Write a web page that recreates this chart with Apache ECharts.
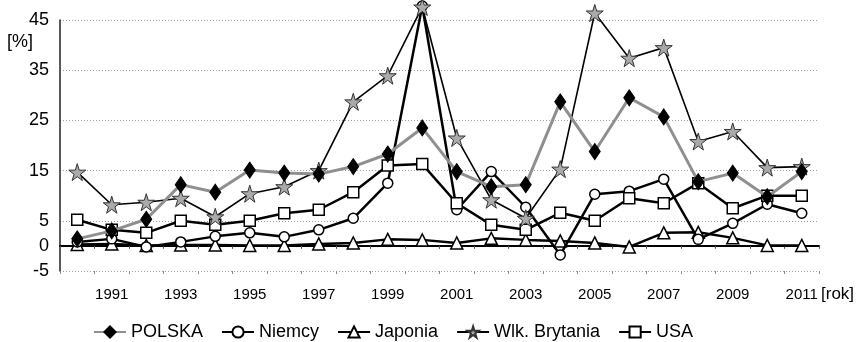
<!DOCTYPE html>
<html>
<head>
<meta charset="utf-8">
<script src="https://cdn.jsdelivr.net/npm/echarts@6/dist/echarts.min.js"></script>
<style>
html,body{margin:0;padding:0;background:#fff;}
#c{width:856px;height:342px;}
</style>
</head>
<body>
<div id="c"></div>
<script>
const years = ['1990','1991','1992','1993','1994','1995','1996','1997','1998','1999','2000','2001','2002','2003','2004','2005','2006','2007','2008','2009','2010','2011'];
const polska = [1.4, 3.0, 5.3, 12.2, 10.7, 15.1, 14.5, 14.3, 15.8, 18.3, 23.5, 14.8, 11.8, 12.2, 28.7, 18.8, 29.5, 25.7, 12.8, 14.5, 9.8, 14.8];
const niemcy = [0.8, 1.4, -0.2, 0.8, 1.9, 2.6, 1.8, 3.2, 5.5, 12.5, 47.8, 7.2, 14.8, 7.7, -1.8, 10.3, 10.9, 13.3, 1.3, 4.5, 8.3, 6.5];
const japonia = [0.3, 0.4, 0.1, 0.2, 0.2, 0.1, 0.1, 0.4, 0.6, 1.3, 1.2, 0.6, 1.5, 1.2, 1.0, 0.6, -0.2, 2.6, 2.7, 1.6, 0.1, 0.1];
const wlkBrytania = [14.7, 8.2, 8.7, 9.5, 5.8, 10.4, 11.8, 15.0, 28.7, 33.9, 47.6, 21.5, 9.2, 5.5, 15.3, 46.4, 37.4, 39.5, 20.8, 22.8, 15.6, 15.8];
const usa = [5.2, 3.2, 2.6, 5.0, 4.2, 5.0, 6.5, 7.2, 10.7, 16.0, 16.3, 8.5, 4.2, 3.2, 6.6, 5.0, 9.5, 8.5, 12.5, 7.5, 10.0, 10.0];
const yTickLabels = [-5, 0, 5, 15, 25, 35, 45];
const seriesNames = ['POLSKA', 'Niemcy', 'Japonia', 'Wlk. Brytania', 'USA'];

const STAR = 'path://M50,0 L61,35 L98,35 L68,57 L79,91 L50,70 L21,91 L32,57 L2,35 L39,35 Z';
const FONT = "'Liberation Sans', Arial, sans-serif";

const chart = echarts.init(document.getElementById('c'), null, {renderer: 'canvas'});

function openSeries(name, data, symbol, size, z) {
  return {
    name: name, type: 'line', data: data, clip: false, z: z,
    symbol: symbol, symbolSize: size, showSymbol: true,
    itemStyle: {color: '#fff', borderColor: '#000', borderWidth: 1.5},
    lineStyle: {color: '#000', width: 2.5},
    emphasis: {disabled: true}
  };
}

chart.setOption({
  animation: false,
  backgroundColor: '#fff',
  textStyle: {fontFamily: FONT},
  grid: {left: 60, right: 37, top: 20, bottom: 71, containLabel: false},
  legend: {
    data: seriesNames,
    left: 88, top: 318,
    itemWidth: 32, itemHeight: 14, itemGap: 18,
    textStyle: {fontSize: 18, color: '#000', fontFamily: FONT},
    selectedMode: false
  },
  xAxis: [
    {
      type: 'category', data: years, position: 'bottom', boundaryGap: true,
      axisLine: {show: false, onZero: false},
      axisTick: {show: true, interval: 0, length: 3, lineStyle: {color: '#888'}},
      axisLabel: {
        interval: function (idx) { return idx % 2 === 1; },
        fontSize: 15, color: '#000', fontFamily: FONT, margin: 16
      },
      splitLine: {show: false}
    },
    {
      type: 'category', data: years, position: 'bottom', boundaryGap: true,
      axisLine: {show: true, onZero: true, onZeroAxisIndex: 0, lineStyle: {color: '#000', width: 2}},
      axisTick: {show: true, interval: 0, length: 3, lineStyle: {color: '#555'}},
      axisLabel: {show: false},
      splitLine: {show: false}
    }
  ],
  yAxis: [
    {
      type: 'value', min: -5, max: 45, interval: 5,
      axisLine: {show: true, onZero: false, lineStyle: {color: '#222', width: 1.5}},
      axisTick: {show: false},
      axisLabel: {
        fontSize: 18, color: '#000', fontFamily: FONT, margin: 11,
        formatter: function (v) { return yTickLabels.indexOf(v) >= 0 ? String(v) : ''; }
      },
      splitLine: {show: false}
    },
    {
      type: 'value', min: 0, max: 50, interval: 10, position: 'left',
      axisLine: {show: false}, axisTick: {show: false}, axisLabel: {show: false},
      splitLine: {show: true, lineStyle: {color: '#a0a0a0', type: [1, 2], width: 1}}
    }
  ],
  graphic: [
    {type: 'text', left: 7, top: 33, style: {text: '[%]', fontSize: 18, fill: '#000', fontFamily: FONT}},
    {type: 'text', left: 821, top: 286, style: {text: '[rok]', fontSize: 17, fill: '#000', fontFamily: FONT}}
  ],
  series: [
    {
      name: 'POLSKA', type: 'line', data: polska, clip: false, z: 6,
      symbol: 'diamond', symbolSize: [11, 16],
      itemStyle: {color: '#000', borderColor: '#000', borderWidth: 1},
      lineStyle: {color: '#8f8f8f', width: 3},
      emphasis: {disabled: true}
    },
    openSeries('Niemcy', niemcy, 'circle', 10, 3),
    openSeries('Japonia', japonia, 'triangle', 12, 2),
    {
      name: 'Wlk. Brytania', type: 'line', data: wlkBrytania, clip: false, z: 5,
      symbol: STAR, symbolSize: 17,
      itemStyle: {color: '#aaaaaa', borderColor: '#333', borderWidth: 1},
      lineStyle: {color: '#000', width: 1.6},
      emphasis: {disabled: true}
    },
    openSeries('USA', usa, 'rect', 11, 4)
  ]
});
</script>
</body>
</html>
